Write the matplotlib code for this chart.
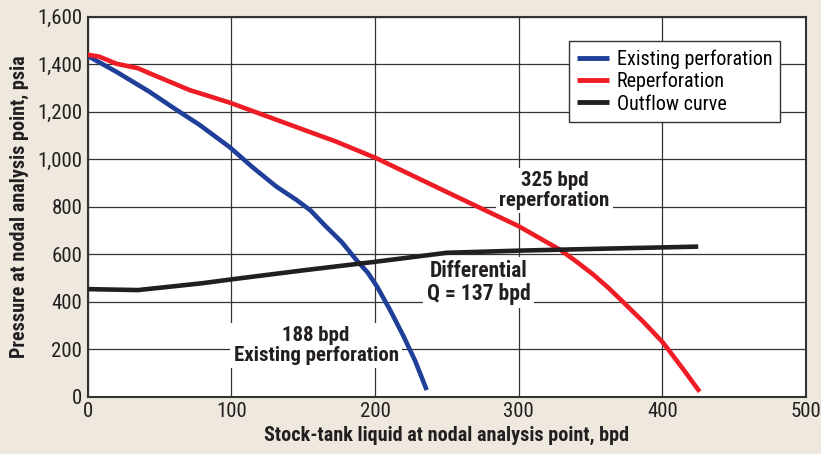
import matplotlib
matplotlib.use("Agg")
import matplotlib.pyplot as plt
from matplotlib import font_manager

_fonts = {}
for f in font_manager.fontManager.ttflist:
    _fonts.setdefault(f.name, set()).add(f.weight if isinstance(f.weight, int) else 400)
FAM = "DejaVu Sans"
for cand in ["Roboto Condensed", "Archivo Narrow", "PT Sans Narrow", "IBM Plex Sans Condensed",
             "Pragati Narrow", "Sofia Sans Condensed", "Saira SemiCondensed"]:
    if cand in _fonts and any(w >= 700 for w in _fonts[cand]):
        FAM = cand
        break
plt.rcParams['font.family'] = [FAM, 'DejaVu Sans']

# Existing perforation (inflow)
exist_q = [0, 20, 43, 60, 78, 99, 115, 131.5, 145, 155, 165, 177, 187, 195, 201.5, 210.5, 220, 228, 236]
exist_p = [1435, 1368, 1284, 1215, 1144, 1050, 965, 884, 830, 785, 722, 650, 576, 522, 463, 365, 253, 150, 28]

# Reperforation (inflow)
reperf_q = [0, 8, 20, 35, 43, 71, 99, 135, 173, 201, 252, 300, 329, 340, 352, 362, 372, 387, 400, 404, 415, 426]
reperf_p = [1440, 1432, 1402, 1383, 1362, 1291, 1238, 1158, 1074, 1004, 856, 718, 618, 570, 514, 461, 403, 314, 231, 200, 112, 21]

# Outflow curve
out_q = [0, 35, 60, 80, 100, 150, 200, 250, 300, 350, 425]
out_p = [453, 449, 465, 478, 494, 532, 568, 606, 615, 622, 632]

xticks = [0, 100, 200, 300, 400, 500]
yticks = [0, 200, 400, 600, 800, 1000, 1200, 1400, 1600]
ytick_labels = ["0", "200", "400", "600", "800", "1,000", "1,200", "1,400", "1,600"]

fig = plt.figure(figsize=(8.21, 4.54), dpi=100, facecolor="#EEE8DE")
ax = fig.add_axes([0.1068, 0.1262, 0.8749, 0.8370])
ax.set_facecolor("white")

ax.plot(exist_q, exist_p, color="#1F3F99", lw=3.3, label="Existing perforation", zorder=3,
        solid_capstyle="butt", solid_joinstyle="round")
ax.plot(reperf_q, reperf_p, color="#EE1C25", lw=3.3, label="Reperforation", zorder=3,
        solid_capstyle="butt", solid_joinstyle="round")
ax.plot(out_q, out_p, color="#231F20", lw=3.3, label="Outflow curve", zorder=3,
        solid_capstyle="butt", solid_joinstyle="round")

ax.set_xlim(0, 500)
ax.set_ylim(0, 1600)
ax.set_xticks(xticks)
ax.set_yticks(yticks)
ax.set_yticklabels(ytick_labels)
ax.tick_params(axis="both", length=0, labelsize=15, colors="#231F20", pad=4)
ax.grid(True, color="#333333", lw=0.9, zorder=1)
for s in ax.spines.values():
    s.set_color("#333333")
    s.set_linewidth(1.5)

ax.set_xlabel("Stock-tank liquid at nodal analysis point, bpd", fontsize=14.5, fontweight="bold",
              color="#231F20", labelpad=3)
ax.set_ylabel("Pressure at nodal analysis point, psia", fontsize=14.5, fontweight="bold",
              color="#231F20", labelpad=6)

bb = dict(boxstyle="square,pad=0.15", facecolor="white", edgecolor="none")
ax.text(159, 215, "188 bpd\nExisting perforation", ha="center", va="center", fontsize=15,
        fontweight="bold", color="#231F20", linespacing=1.05, bbox=bb, zorder=2)
ax.text(272, 482, "Differential\nQ = 137 bpd", ha="center", va="center", fontsize=15.5,
        fontweight="bold", color="#231F20", linespacing=1.05, bbox=bb, zorder=2)
ax.text(325, 868, "325 bpd\nreperforation", ha="center", va="center", fontsize=15,
        fontweight="bold", color="#231F20", linespacing=1.05, bbox=bb, zorder=2)

leg = ax.legend(loc="upper right", bbox_to_anchor=(0.9645, 0.935), fontsize=14.5, frameon=True,
                fancybox=False, edgecolor="#333333", framealpha=1, handlelength=1.6,
                handletextpad=0.4, labelspacing=0.15, borderpad=0.4, borderaxespad=0)
leg.get_frame().set_linewidth(1.0)
for ln in leg.get_lines():
    ln.set_linewidth(3.5)
leg.set_zorder(5)

fig.savefig("out.png", dpi=100, facecolor=fig.get_facecolor())
